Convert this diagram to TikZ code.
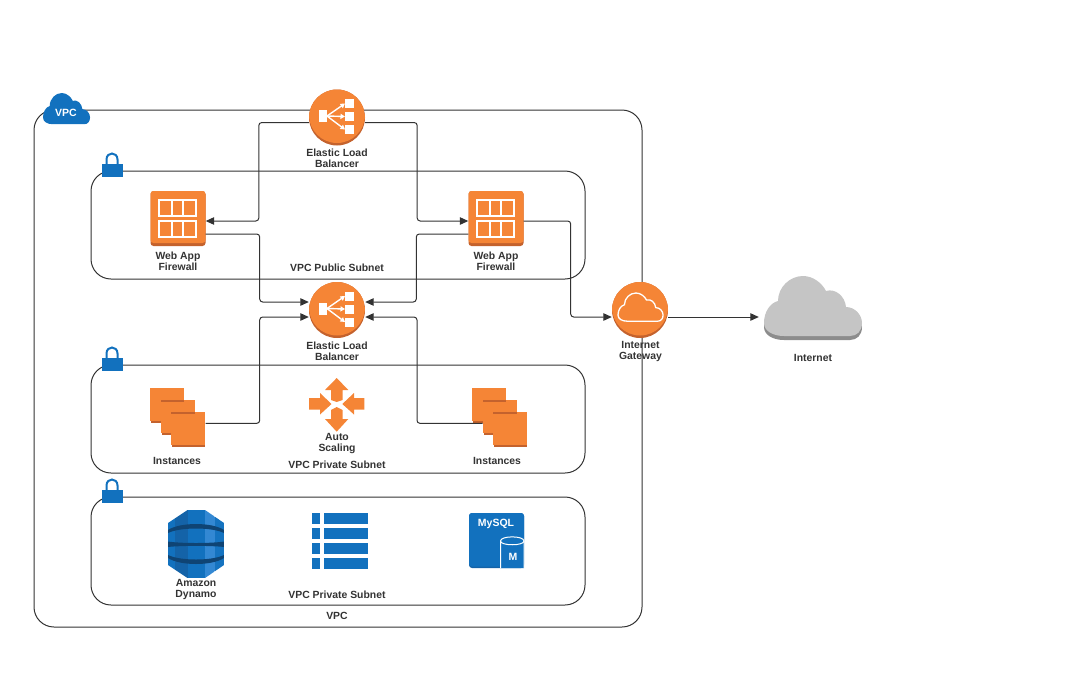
\documentclass[tikz,border=0pt]{standalone}
\usepackage{fontspec}
\setmainfont{Liberation Sans}
\usetikzlibrary{arrows.meta}
\definecolor{awsorange}{HTML}{F58536}
\definecolor{awsshade}{HTML}{C4622D}
\definecolor{awsblue}{HTML}{1271BE}
\definecolor{awsmid}{HTML}{1463A8}
\definecolor{awsdeep}{HTML}{0F4474}
\definecolor{awssky}{HTML}{3388D3}
\definecolor{cloudgray}{HTML}{C5C5C5}
\definecolor{cloudshade}{HTML}{8C8C8C}
\definecolor{inkgray}{HTML}{333333}
\tikzset{
	framebox/.style={draw=inkgray, line width=1pt, rounded corners=20pt},
	link/.style={draw=inkgray, line width=1pt, rounded corners=3pt},
	linkarrow/.style={link, -{Triangle[length=8.5pt,width=7.5pt]}},
	lbl/.style={inner sep=0pt, align=center, text=inkgray, font=\bfseries\fontsize{10.4}{11}\selectfont},
	discnode/.style={circle, fill=awsshade, inner sep=0pt, minimum size=56pt},
	wafnode/.style={rounded corners=3pt, fill=awsshade, inner sep=0pt, minimum size=55pt},
	cubenode/.style={anchor=north west, fill=awsshade, draw=white, line width=.7pt, inner sep=0pt, minimum width=34pt, minimum height=35pt},
}
% cloud outline in a box of 98 by 60
\newcommand{\cloudpath}{(20,60) .. controls (9,60) and (0,55) .. (0,47) .. controls (0,36) and (6,27) .. (14,25) .. controls (14,11) and (26,0) .. (39,0) .. controls (49,0) and (58,7) .. (62,15) .. controls (71,12) and (81,20) .. (82,31) .. controls (91,31) and (98,39) .. (98,47) .. controls (98,55) and (93,60) .. (86,60) -- cycle}
% orange disc with a darker rim at the bottom
\newcommand{\orangedisc}[3]{
	\node[discnode] (#1) at (#2,#3) {};
	\begin{scope}
		\clip (#2,#3) circle (28);
		\fill[awsorange] (#2,#3-2.5) circle (28);
	\end{scope}
}
% load balancer glyph
\newcommand{\elbglyph}[2]{
	\begin{scope}[shift={(#1,#2)}]
		\fill[white] (-18.5,-7.5) rectangle (-10,4.5);
		\fill[white] (8,-18.5) rectangle (17,-9.5);
		\fill[white] (8,-5.5) rectangle (17,3.5);
		\fill[white] (8,7.5) rectangle (17,16.5);
		\foreach \ty in {-14,-1,12}
			\draw[white, line width=1.4pt, -{Triangle[length=4.5pt,width=5pt]}] (-10,-1.5) -- (8,\ty);
	\end{scope}
}
% firewall glyph
\newcommand{\wafglyph}[3]{
	\node[wafnode] (#1) at (#2,#3) {};
	\begin{scope}[shift={(#2,#3)}]
		\fill[awsorange, rounded corners=3pt] (-27.5,-27.5) rectangle (27.5,24.5);
		\foreach \ry in {-18.5,2.5} {
			\draw[white, line width=1.6pt] (-19,\ry) rectangle (18,\ry+16);
			\draw[white, line width=1.6pt] (-6,\ry) -- (-6,\ry+16);
			\draw[white, line width=1.6pt] (5,\ry) -- (5,\ry+16);
		}
	\end{scope}
}
% one square of the instances stack
\newcommand{\instcube}[3]{
	\node[cubenode] (#1) at (#2,#3) {};
	\fill[awsorange] (#2,#3) rectangle (#2+34,#3+33);
}
% padlock
\newcommand{\padlock}[1]{
	\begin{scope}[shift={(0,#1)}]
		\draw[awsblue, line width=2pt] (106.5,165) -- (106.5,159.5) .. controls (106.5,151.5) and (117.5,151.5) .. (117.5,159.5) -- (117.5,165);
		\fill[awsblue] (101.5,164) rectangle (123,177);
	\end{scope}
}
\begin{document}
\begin{tikzpicture}[x=1pt, y=-1pt]
	\useasboundingbox (0,0) rectangle (1068,689);
	% vpc frame and the subnets
	\draw[framebox] (34,110) rectangle (642,627);
	\draw[framebox] (91,171) rectangle (585,279);
	\draw[framebox] (91,365) rectangle (585,473);
	\draw[framebox] (91,497) rectangle (585,605);
	% vpc cloud
	\fill[awsblue, shift={(43,93)}, xscale=.48, yscale=.52] \cloudpath;
	\node[inner sep=0pt, text=white, font=\bfseries\fontsize{10.5}{11}\selectfont] (vpctag) at (66,112.5) {VPC};
	% locks
	\padlock{0}
	\padlock{194}
	\padlock{326}
	% load balancers
	\orangedisc{elbtop}{337}{117.5}
	\elbglyph{337}{117.5}
	\orangedisc{elbmid}{337}{310}
	\elbglyph{337}{310}
	% firewalls
	\wafglyph{wafl}{178}{218.5}
	\wafglyph{wafr}{496}{218.5}
	% instances left
	\instcube{instla}{150}{388}
	\instcube{instlb}{160.5}{400}
	\fill[awsshade] (160.5,399.5) rectangle (184,401.5);
	\instcube{instlc}{171}{412}
	\fill[awsshade] (171,411.5) rectangle (194.5,413.5);
	% instances right
	\instcube{instra}{472}{388}
	\instcube{instrb}{482.5}{400}
	\fill[awsshade] (482.5,399.5) rectangle (506,401.5);
	\instcube{instrc}{493}{412}
	\fill[awsshade] (493,411.5) rectangle (516.5,413.5);
	% auto scaling arrows
	\fill[awsorange] (336.7,378) -- (348.3,390) -- (342.5,390) -- (342.5,400) -- (336.7,402) -- (331,400) -- (331,390) -- (325,390) -- cycle;
	\fill[awsorange] (336.7,431.7) -- (348.3,419) -- (342.5,419) -- (342.5,410) -- (336.7,407) -- (331,410) -- (331,419) -- (325,419) -- cycle;
	\fill[awsorange] (309,398) -- (320,398) -- (320,393) -- (331.5,404) -- (320,414.5) -- (320,409.5) -- (309,409.5) -- cycle;
	\fill[awsorange] (364.3,398) -- (354,398) -- (354,393) -- (342.3,404) -- (354,414.5) -- (354,409.5) -- (364.3,409.5) -- cycle;
	% dynamo
	\begin{scope}
		\clip (168,523) -- (187.5,510) -- (205,510) -- (224,523) -- (224,565) -- (205,578) -- (187.5,578) -- (168,565) -- cycle;
		\fill[awsblue] (168,510) rectangle (175,578);
		\fill[awsmid] (175,510) rectangle (188,578);
		\fill[awsblue] (188,510) rectangle (205,578);
		\fill[awssky] (205,510) rectangle (215,578);
		\fill[awsblue!90!awssky] (215,510) rectangle (224,578);
		\fill[awsdeep] (168,530) .. controls (180,522) and (212,522) .. (224,530) -- (224,533) .. controls (212,527) and (180,527) .. (168,533) -- cycle;
		\fill[awsdeep] (168,541.5) .. controls (180,543.5) and (212,543.5) .. (224,541.5) -- (224,547) .. controls (212,545.5) and (180,545.5) .. (168,547) -- cycle;
		\fill[awsdeep] (168,555) .. controls (180,561) and (212,561) .. (224,555) -- (224,558) .. controls (212,566) and (180,566) .. (168,558) -- cycle;
	\end{scope}
	% table
	\foreach \ry in {513,528,543,558} {
		\fill[awsblue] (311.5,\ry) rectangle (320,\ry+11);
		\fill[awsblue] (324,\ry) rectangle (367.5,\ry+11);
	}
	% mysql
	\fill[awsmid, rounded corners=3pt] (469,513) rectangle (524,568);
	\fill[awsblue, rounded corners=3pt] (469,513) rectangle (524,566.5);
	\node[inner sep=0pt, text=white, font=\bfseries\fontsize{10.5}{11}\selectfont] (mysqltag) at (496,524) {MySQL};
	\draw[white, line width=1pt, fill=awsblue] (500.5,568) -- (500.5,541) .. controls (500.5,535.5) and (524,535.5) .. (524,541) -- (524,568);
	\draw[white, line width=1pt] (500.5,541) .. controls (500.5,546) and (524,546) .. (524,541);
	\node[inner sep=0pt, text=white, font=\bfseries\fontsize{10.5}{11}\selectfont] (mysqlm) at (513,557) {M};
	% internet gateway
	\orangedisc{igw}{640}{310}
	\draw[white, line width=1.3pt, shift={(618,293)}, xscale=.46, yscale=.47] \cloudpath;
	% internet
	\fill[cloudshade, shift={(764,280)}] \cloudpath;
	\fill[cloudgray, shift={(764,276)}] \cloudpath;
	\node[inner sep=0pt, minimum width=98pt, minimum height=10pt] (internet) at (813,317) {};
	% links
	\draw[linkarrow] ([yshift=-5pt]elbtop.west) -- ++(-50,0) |- ([yshift=-2.5pt]wafl.east);
	\draw[linkarrow] ([yshift=-5pt]elbtop.east) -- ++(52,0) |- ([yshift=-2.5pt]wafr.west);
	\draw[linkarrow] ([yshift=-15.5pt]wafl.east) -- ++(54,0) |- ([yshift=8pt]elbmid.west);
	\draw[linkarrow] ([yshift=-15.5pt]wafr.west) -- ++(-52,0) |- ([yshift=8pt]elbmid.east);
	\draw[linkarrow] ([yshift=-2.5pt]wafr.east) -- ++(47,0) |- ([yshift=-7pt]igw.west);
	\draw[linkarrow, shorten >=5pt] ([yshift=-7pt]igw.east) -- (internet.west);
	\draw[linkarrow] ([yshift=6.5pt]instlc.east) -- ++(54,0) |- ([yshift=-7pt]elbmid.west);
	\draw[linkarrow] ([yshift=-5.5pt]instrb.west) -- ++(-65.5,0) |- ([yshift=-7pt]elbmid.east);
	% labels
	\node[lbl] (elbtoplbl) at (337,158.7) {Elastic Load\\Balancer};
	\node[lbl] (waflbl) at (178,261.7) {Web App\\Firewall};
	\node[lbl] (wafrlbl) at (496,261.7) {Web App\\Firewall};
	\node[lbl] (publbl) at (337,267.7) {VPC Public Subnet};
	\node[lbl] (elbmidlbl) at (337,351.7) {Elastic Load\\Balancer};
	\node[lbl] (igwlbl) at (640.5,351.7) {Internet\\Gateway};
	\node[lbl] (internetlbl) at (813,357.7) {Internet};
	\node[lbl] (instllbl) at (177,460.7) {Instances};
	\node[lbl] (instrlbl) at (497,460.7) {Instances};
	\node[lbl] (autolbl) at (337,443.7) {Auto\\Scaling};
	\node[lbl] (privlbl) at (337,464.7) {VPC Private Subnet};
	\node[lbl] (dynlbl) at (196,589.7) {Amazon\\Dynamo};
	\node[lbl] (privblbl) at (337,594.7) {VPC Private Subnet};
	\node[lbl] (vpclbl) at (337,615.7) {VPC};
\end{tikzpicture}
\end{document}
